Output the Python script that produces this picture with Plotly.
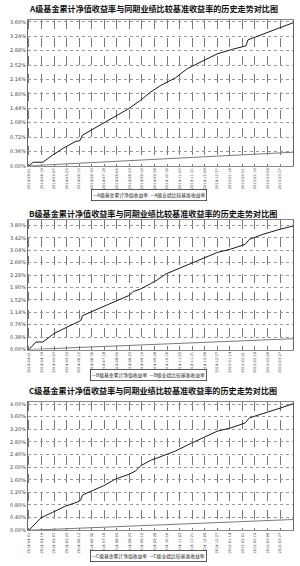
import plotly.graph_objects as go

# ---------------- data ----------------
tick_dates = ["2014-04-01", "2014-04-19", "2014-05-07", "2014-05-25", "2014-06-12", "2014-06-30",
              "2014-07-18", "2014-08-05", "2014-08-23", "2014-09-10", "2014-09-28", "2014-10-16",
              "2014-11-03", "2014-11-21", "2014-12-09", "2014-12-27", "2015-01-14", "2015-02-01",
              "2015-02-19", "2015-03-09", "2015-03-27"]

a_dates = ["2014-04-01", "2014-04-07", "2014-04-21", "2014-05-05", "2014-05-21", "2014-06-07",
           "2014-06-13", "2014-06-17", "2014-06-29", "2014-07-17", "2014-08-03", "2014-08-22",
           "2014-09-08", "2014-09-22", "2014-10-07", "2014-10-28", "2014-11-14", "2014-12-03",
           "2014-12-27", "2015-01-19", "2015-02-06", "2015-02-09", "2015-03-03", "2015-03-27",
           "2015-04-15"]
a_fund = [0.00, 0.09, 0.09, 0.27, 0.45, 0.61, 0.63, 0.77, 0.89, 1.07, 1.25, 1.43, 1.64, 1.84,
          2.01, 2.20, 2.43, 2.59, 2.80, 2.92, 3.00, 3.15, 3.29, 3.46, 3.58]

b_dates = ["2014-04-01", "2014-04-11", "2014-04-21", "2014-05-07", "2014-05-24", "2014-05-31",
           "2014-06-10", "2014-06-14", "2014-06-17", "2014-06-29", "2014-07-17", "2014-08-03",
           "2014-08-22", "2014-08-29", "2014-09-08", "2014-09-22", "2014-10-02", "2014-10-14",
           "2014-10-31", "2014-11-18", "2014-12-07", "2014-12-27", "2015-01-15", "2015-02-05",
           "2015-02-11", "2015-03-03", "2015-03-27", "2015-04-15"]
b_fund = [0.00, 0.23, 0.23, 0.49, 0.67, 0.74, 0.84, 0.88, 1.04, 1.15, 1.30, 1.47, 1.65, 1.78,
          1.85, 2.01, 2.13, 2.31, 2.46, 2.61, 2.80, 2.97, 3.07, 3.22, 3.37, 3.53, 3.68, 3.78]

c_dates = ["2014-04-01", "2014-04-18", "2014-05-05", "2014-05-22", "2014-06-10", "2014-06-14",
           "2014-06-17", "2014-06-29", "2014-07-17", "2014-08-03", "2014-08-22", "2014-09-01",
           "2014-09-08", "2014-09-22", "2014-10-14", "2014-10-28", "2014-11-18", "2014-12-07",
           "2014-12-27", "2015-01-15", "2015-02-05", "2015-02-11", "2015-03-03", "2015-03-27",
           "2015-04-15"]
c_fund = [0.00, 0.39, 0.57, 0.75, 0.90, 0.95, 1.12, 1.23, 1.41, 1.62, 1.77, 1.88, 2.04, 2.21,
          2.40, 2.51, 2.74, 2.93, 3.14, 3.24, 3.40, 3.56, 3.69, 3.87, 4.01]

bench_dates = ["2014-04-01", "2014-06-30", "2014-09-28", "2014-12-27", "2015-04-15"]
a_bench = [0.00, 0.08, 0.16, 0.25, 0.34]
b_bench = [0.00, 0.08, 0.16, 0.24, 0.33]
c_bench = [0.00, 0.08, 0.16, 0.25, 0.34]

a_yticks = [0.00, 0.36, 0.72, 1.08, 1.44, 1.80, 2.16, 2.52, 2.88, 3.24, 3.60]
b_yticks = [0.00, 0.38, 0.76, 1.14, 1.52, 1.90, 2.28, 2.66, 3.04, 3.42, 3.80]
c_yticks = [0.00, 0.40, 0.80, 1.20, 1.60, 2.00, 2.40, 2.80, 3.20, 3.60, 4.00]

titles = ["A级基金累计净值收益率与同期业绩比较基准收益率的历史走势对比图",
          "B级基金累计净值收益率与同期业绩比较基准收益率的历史走势对比图",
          "C级基金累计净值收益率与同期业绩比较基准收益率的历史走势对比图"]
legend_texts = ["—A级基金累计净值收益率  —A级业绩比较基准收益率",
                "—B级基金累计净值收益率  —B级业绩比较基准收益率",
                "—C级基金累计净值收益率  —C级业绩比较基准收益率"]

# ---------------- layout helpers ----------------
W, H = 300, 566
def py(p):
    return 1 - p / H

panels = [
    dict(dates=a_dates, fund=a_fund, bench=a_bench, yt=a_yticks, yr=[0, 3.65], top=19, bot=166,
         title_y=8, leg_y=195),
    dict(dates=b_dates, fund=b_fund, bench=b_bench, yt=b_yticks, yr=[0, 3.95], top=221, bot=351,
         title_y=214, leg_y=377),
    dict(dates=c_dates, fund=c_fund, bench=c_bench, yt=c_yticks, yr=[0, 4.06], top=404, bot=533,
         title_y=392, leg_y=559),
]

fig = go.Figure()
layout = dict(width=W, height=H, margin=dict(l=0, r=0, t=0, b=0), showlegend=False,
              paper_bgcolor="white", plot_bgcolor="white", annotations=[])
xrange_ = ["2014-03-30 12:00", "2015-04-14 14:00"]

for i, p in enumerate(panels):
    n = "" if i == 0 else str(i + 1)
    xa, ya = "x" + n, "y" + n
    fig.add_trace(go.Scatter(x=bench_dates, y=p["bench"], mode="lines", xaxis=xa, yaxis=ya,
                             line=dict(color="#7a7a7a", width=1)))
    fig.add_trace(go.Scatter(x=p["dates"], y=p["fund"], mode="lines", xaxis=xa, yaxis=ya,
                             line=dict(color="#1a1a1a", width=1)))
    layout["xaxis" + n] = dict(
        domain=[27 / W, 293 / W], anchor=ya, range=xrange_, type="date",
        tickvals=tick_dates, ticktext=tick_dates, tickangle=-90,
        tickfont=dict(size=3.6, family="DejaVu Sans", color="#333"),
        showgrid=True, gridcolor="#777", griddash="dash", gridwidth=0.6,
        showline=True, linecolor="#888", linewidth=1, mirror=True, ticks="", zeroline=False)
    layout["yaxis" + n] = dict(
        domain=[py(p["bot"]), py(p["top"])], anchor=xa, range=p["yr"],
        tickvals=p["yt"], ticktext=["%.2f%%" % v for v in p["yt"]],
        tickfont=dict(size=5, family="DejaVu Sans", color="#444"),
        showgrid=True, gridcolor="#999", griddash="dot", gridwidth=0.6,
        showline=True, linecolor="#666", linewidth=1, mirror=True, ticks="", zeroline=False)
    layout["annotations"].append(dict(
        text="<b>" + titles[i] + "</b>", xref="paper", yref="paper", x=0.51, y=py(p["title_y"]),
        xanchor="center", yanchor="middle", showarrow=False,
        font=dict(size=8.1, family="Noto Sans CJK SC", color="#111")))
    layout["annotations"].append(dict(
        text=legend_texts[i], xref="paper", yref="paper", x=148 / W, y=py(p["leg_y"]),
        xanchor="center", yanchor="middle", showarrow=False, bordercolor="#333", borderwidth=0.8,
        borderpad=1, bgcolor="white",
        font=dict(size=4.8, family="Noto Sans CJK SC", color="#222")))

fig.update_layout(**layout)
fig.write_html("out.html")
